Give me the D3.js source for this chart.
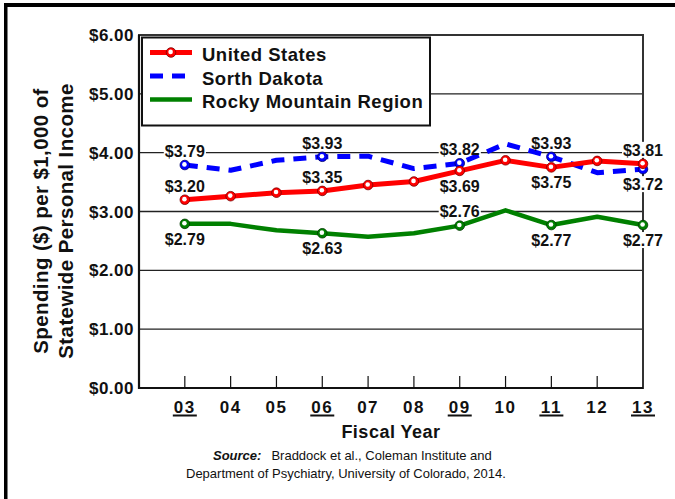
<!DOCTYPE html>
<html lang="en">
<head>
  <meta charset="UTF-8">
  <title>Spending per $1,000 of Personal Income</title>
  <style>
    body { margin: 0; background: #fff; }
    svg { display: block; font-family: "Liberation Sans", Arial, sans-serif; }
    .bold { font-weight: bold; fill: #111; }
  </style>
</head>
<body>
  <svg width="675" height="499"></svg>
  <script src="https://d3js.org/d3.v7.min.js"></script>
  <script>
    // fiscal years and spending per $1,000 of personal income
    const years = ["03", "04", "05", "06", "07", "08", "09", "10", "11", "12", "13"];
    const usValues = [3.20, 3.26, 3.32, 3.35, 3.45, 3.51, 3.69, 3.87, 3.75, 3.86, 3.81];
    const sdValues = [3.79, 3.70, 3.87, 3.93, 3.94, 3.73, 3.82, 4.15, 3.93, 3.66, 3.72];
    const rmValues = [2.79, 2.79, 2.68, 2.63, 2.57, 2.63, 2.76, 3.02, 2.77, 2.91, 2.77];
    const labeledYears = ["03", "06", "09", "11", "13"];
    const yTicks = [0, 1, 2, 3, 4, 5, 6];

    const svg = d3.select("svg");
    const plotL = 139, plotR = 643, plotT = 35, plotB = 388;

    const x = d3.scaleLinear().domain([2, 13]).range([plotL, plotR]);
    const y = d3.scaleLinear().domain([0, 6]).range([plotB, plotT]);
    const xPos = (yr) => x(+yr);

    const series = [
      { name: "United States", values: usValues, color: "#ff0000", dark: "#7a0000", width: 5, dash: null, allMarkers: true,
        labelSide: ["up", "up", "down", "down", "up"] },
      { name: "Sorth Dakota", values: sdValues, color: "#0000ff", dark: "#00006a", width: 5, dash: "13,9", allMarkers: false,
        labelSide: ["up", "up", "up", "up", "down"] },
      { name: "Rocky Mountain Region", values: rmValues, color: "#008000", dark: "#003800", width: 4.5, dash: null, allMarkers: false,
        labelSide: ["down", "down", "up", "down", "down"] }
    ];

    // outer frame (top and left only)
    svg.append("rect").attr("x", 4).attr("y", 3).attr("width", 671).attr("height", 4).attr("fill", "#000");
    svg.append("rect").attr("x", 4).attr("y", 3).attr("width", 3.5).attr("height", 496).attr("fill", "#000");

    // gridlines
    svg.append("g").selectAll("line")
      .data(yTicks.filter(t => t > 0 && t < 6))
      .enter().append("line")
      .attr("x1", plotL).attr("x2", plotR)
      .attr("y1", d => y(d)).attr("y2", d => y(d))
      .attr("stroke", "#222").attr("stroke-width", 1.3);

    // plot frame
    svg.append("rect")
      .attr("x", plotL).attr("y", plotT).attr("width", plotR - plotL).attr("height", plotB - plotT)
      .attr("fill", "none").attr("stroke", "#333").attr("stroke-width", 2);
    svg.append("path")
      .attr("d", `M${plotL},${plotT}V${plotB}H${plotR}`)
      .attr("fill", "none").attr("stroke", "#111").attr("stroke-width", 2.2);

    // inside ticks
    svg.append("g").selectAll("line")
      .data(years.slice(0, -1))
      .enter().append("line")
      .attr("x1", d => xPos(d)).attr("x2", d => xPos(d))
      .attr("y1", plotB - 12).attr("y2", plotB)
      .attr("stroke", "#111").attr("stroke-width", 1.2);

    // y tick labels
    svg.append("g").selectAll("text")
      .data(yTicks)
      .enter().append("text")
      .attr("class", "bold")
      .attr("x", 134).attr("y", d => y(d) + 6)
      .attr("text-anchor", "end")
      .style("font-size", "17px").style("letter-spacing", "0.5px")
      .text(d => "$" + d.toFixed(2));

    // x tick labels
    const xl = svg.append("g").selectAll("g")
      .data(years).enter().append("g");
    xl.append("text")
      .attr("class", "bold")
      .attr("x", d => xPos(d)).attr("y", 413)
      .attr("text-anchor", "middle")
      .style("font-size", "17px").style("letter-spacing", "1.5px")
      .text(d => d);
    xl.filter(d => labeledYears.includes(d)).append("rect")
      .attr("x", d => xPos(d) - 12).attr("y", 414.5)
      .attr("width", 24).attr("height", 2).attr("fill", "#111");

    // axis titles
    svg.append("text").attr("class", "bold")
      .attr("x", 391).attr("y", 438).attr("text-anchor", "middle")
      .style("font-size", "18px").style("letter-spacing", "0.5px")
      .text("Fiscal Year");
    const yTitle = ["Spending ($) per $1,000 of", "Statewide Personal Income"];
    svg.append("g").selectAll("text")
      .data(yTitle).enter().append("text")
      .attr("class", "bold")
      .attr("transform", (d, i) => `translate(${48 + i * 25},221) rotate(-90)`)
      .attr("text-anchor", "middle")
      .style("font-size", "20.5px").style("letter-spacing", "0.4px")
      .text(d => d);

    // source note
    const src1 = svg.append("text").attr("x", 213).attr("y", 460).style("font-size", "13px").attr("fill", "#111");
    src1.append("tspan").style("font-weight", "bold").style("font-style", "italic").text("Source:");
    src1.append("tspan").attr("dx", 10).text("Braddock et al., Coleman Institute and");
    svg.append("text").attr("x", 186).attr("y", 478).style("font-size", "13px").attr("fill", "#111")
      .text("Department of Psychiatry, University of Colorado, 2014.");

    // data labels (white box, then lines, then text)
    const labels = [];
    series.forEach(s => {
      labeledYears.forEach((yr, k) => {
        const i = years.indexOf(yr);
        const cy = y(s.values[i]) + (s.labelSide[k] === "up" ? -14 : 15);
        labels.push({ x: xPos(yr), cy: cy, text: "$" + s.values[i].toFixed(2) });
      });
    });
    const labelBg = svg.append("g");
    const lineLayer = svg.append("g");
    const labelText = svg.append("g");

    labelText.selectAll("text")
      .data(labels).enter().append("text")
      .attr("class", "bold")
      .attr("x", d => d.x).attr("y", d => d.cy + 5.8)
      .attr("text-anchor", "middle")
      .style("font-size", "16px")
      .text(d => d.text)
      .each(function (d) {
        const b = this.getBBox();
        labelBg.append("rect")
          .attr("x", b.x - 1).attr("y", d.cy - 8).attr("width", b.width + 2).attr("height", 16)
          .attr("fill", "#fff");
      });

    const line = d3.line().x((d, i) => xPos(years[i])).y(d => y(d));

    function marker(g, cx, cy, s) {
      g.append("circle").attr("cx", cx).attr("cy", cy).attr("r", 4.8)
        .attr("fill", s.color).attr("stroke", s.dark).attr("stroke-width", 0.8);
      g.append("circle").attr("cx", cx - 0.4).attr("cy", cy - 0.6).attr("r", 2.3).attr("fill", "#fff");
    }

    // draw rocky, SD, then US on top
    [series[2], series[1], series[0]].forEach(s => {
      lineLayer.append("path")
        .attr("d", line(s.values))
        .attr("fill", "none")
        .attr("stroke", s.color)
        .attr("stroke-width", s.width)
        .attr("stroke-dasharray", s.dash)
        .attr("stroke-linejoin", "round");
      s.values.forEach((v, i) => {
        if (s.allMarkers || labeledYears.includes(years[i])) marker(lineLayer, xPos(years[i]), y(v), s);
      });
    });

    // legend
    const legend = svg.append("g");
    legend.append("rect")
      .attr("x", 142).attr("y", 37.5).attr("width", 288).attr("height", 88)
      .attr("fill", "#fff").attr("stroke", "#111").attr("stroke-width", 2);
    series.forEach((s, i) => {
      const ly = 52.5 + i * 23.5;
      legend.append("line")
        .attr("x1", 150).attr("x2", 192).attr("y1", ly).attr("y2", ly)
        .attr("stroke", s.color).attr("stroke-width", s.width)
        .attr("stroke-dasharray", s.dash);
      if (s.allMarkers) marker(legend, 171, ly, s);
      legend.append("text").attr("class", "bold")
        .attr("x", 202).attr("y", ly + 8.5)
        .style("font-size", "18.5px").style("letter-spacing", "0.5px")
        .text(s.name);
    });
  </script>
</body>
</html>
